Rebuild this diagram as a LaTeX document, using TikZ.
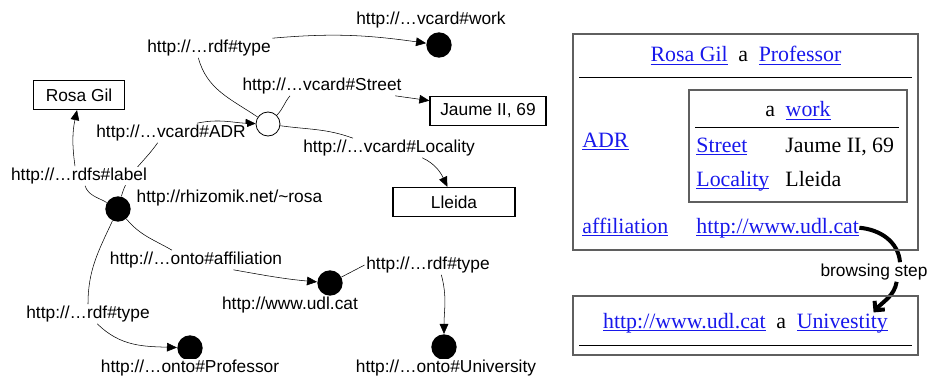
\documentclass[tikz,border=0pt]{standalone}
\usepackage{fontspec}
\setmainfont{Liberation Serif}
\setsansfont{Liberation Sans}
\usetikzlibrary{%
	arrows.meta,%
	backgrounds
}
\definecolor{linkblue}{RGB}{24,24,235}
\definecolor{framegray}{RGB}{95,95,95}
\newcommand{\lnk}[1]{\textcolor{linkblue}{\setbox0\hbox{#1}\rlap{\rule[-2.4pt]{\wd0}{0.8pt}}\box0}}

\begin{document}
\begin{tikzpicture}[x=0.75pt,y=0.75pt,line width=0.6pt,
	res/.style={circle,fill=black,minimum size=19pt,inner sep=0pt},
	bnode/.style={circle,draw,fill=white,minimum size=18pt,inner sep=0pt},
	lit/.style={draw,line width=1pt,minimum height=21.75pt,inner sep=2pt,font=\sffamily\fontsize{13}{15}\selectfont},
	prop/.style={fill=white,inner sep=1pt,font=\sffamily\fontsize{13}{15}\selectfont},
	panel/.style={draw=framegray,line width=0.9pt},
	txt/.style={inner sep=0pt,font=\fontsize{16.4}{19}\selectfont},
	>={Triangle[length=7.5pt,width=6.5pt]}]
			\useasboundingbox (0,0) rectangle (930,-381);
			% resources
			\node[res] (rosa) at (118,-209) {};
			\node[bnode] (adr) at (268,-124) {};
			\node[res] (work) at (439,-45) {};
			\node[res] (udl) at (330,-283) {};
			\node[res] (univ) at (444,-347) {};
			\node[res] (prof) at (190,-348) {};
			\node[lit,minimum width=68pt] (rosagil) at (79,-95) {Rosa Gil};
			\node[lit,minimum width=87pt] (jaume) at (488,-111) {Jaume II, 69};
			\node[lit,minimum width=91.5pt] (lleida) at (454,-202) {Lleida};
			%
			\node[prop,anchor=west] (rosauri) at (135,-198) {http://rhizomik.net/\textasciitilde rosa};
			\node[prop] (workuri) at (431,-20) {http://…vcard\#work};
			\node[prop] (udluri) at (290,-305) {http://www.udl.cat};
			\node[prop] (univuri) at (446,-368) {http://…onto\#University};
			\node[prop] (profuri) at (190,-368) {http://…onto\#Professor};
			% properties
			\node[prop] (type1) at (209,-48) {http://…rdf\#type};
			\node[prop] (street) at (322,-86) {http://…vcard\#Street};
			\node[prop] (locality) at (389,-148) {http://…vcard\#Locality};
			\node[prop] (adrlbl) at (171,-133) {http://…vcard\#ADR};
			\node[prop] (label) at (79,-176) {http://…rdfs\#label};
			\node[prop] (affil) at (196,-260) {http://…onto\#affiliation};
			\node[prop] (type2) at (428,-265) {http://…rdf\#type};
			\node[prop] (type3) at (88,-314) {http://…rdf\#type};
			% html views
			\node[panel,minimum width=258.75pt,minimum height=162pt] (page1) at (745.5,-142) {};
			\draw (579,-77) -- (912,-77);
			\node[panel,minimum width=163.5pt,minimum height=84pt] (address) at (798,-146) {};
			\draw (695,-127) -- (899,-127);
			\node[txt,anchor=base] (title1) at (746,-62) {\lnk{Rosa Gil}\hspace{8pt}a\hspace{8pt}\lnk{Professor}};
			\node[txt,anchor=base] (worktype) at (798,-117) {a\hspace{8pt}\lnk{work}};
			\node[txt,anchor=base west] (streetlnk) at (696,-152) {\lnk{Street}};
			\node[txt,anchor=base west] (streetval) at (785,-152) {Jaume II, 69};
			\node[txt,anchor=base west] (localitylnk) at (696,-186) {\lnk{Locality}};
			\node[txt,anchor=base west] (localityval) at (785,-186) {Lleida};
			\node[txt,anchor=base west] (adrlnk) at (582,-147) {\lnk{ADR}};
			\node[txt,anchor=base west] (affillnk) at (582,-233) {\lnk{affiliation}};
			\node[txt,anchor=base west] (udllnk) at (696,-233) {\lnk{http://www.udl.cat}};
			\node[panel,minimum width=258.75pt,minimum height=44.25pt] (page2) at (745.5,-325.5) {};
			\draw (579,-345) -- (912,-345);
			\node[txt,anchor=base] (title2) at (745.5,-328) {\lnk{http://www.udl.cat}\hspace{8pt}a\hspace{8pt}\lnk{Univestity}};
			\node[prop] (browse) at (874,-272) {browsing step};
			\begin{pgfonlayer}{background}
			\draw (adr) to[out=146,in=-75] ([xshift=-8pt]type1.south);
			\draw[->] (type1.north east) to[out=5,in=172] (work);
			\draw (adr) to[out=45,in=-130] ([xshift=-24pt]street.south);
			\draw[->] ([xshift=-6pt]street.south east) -- (jaume.170);
			\draw (adr) to[out=-8,in=160] ([xshift=-27pt]locality.north);
			\draw[->] ([xshift=25pt]locality.south) to[out=-25,in=115] ([xshift=-5pt]lleida.north);
			\draw (rosa) to[out=75,in=-125] ([xshift=-10pt]adrlbl.south);
			\draw[->] ([xshift=19.5pt]adrlbl.north) to[out=12,in=178] (adr);
			\draw (rosa) to[out=150,in=-70] ([xshift=4.5pt]label.south);
			\draw[->] ([xshift=-3pt]label.north) to[bend left=10] ([xshift=-1.5pt]rosagil.south);
			\draw (rosa) to[out=-50,in=150] ([xshift=-18pt]affil.north);
			\draw[->] ([xshift=28pt]affil.south) to[out=-10,in=175] (udl);
			\draw (udl) -- (type2.west);
			\draw[->] ([xshift=10pt]type2.south) to[out=-75,in=90] (univ);
			\draw (rosa) to[out=-115,in=90] (type3.north);
			\draw[->] ([xshift=7pt]type3.south) to[out=-45,in=178] (prof);
			% browsing step
			\draw[line width=3pt] (udllnk.east) to[out=-5,in=95] ([xshift=19.5pt]browse.north);
			\draw[line width=3pt,-{Straight Barb[length=5pt,width=10pt]}] ([xshift=17pt]browse.south) to[out=-100,in=50] ([xshift=-11pt]title2.north east);
			\end{pgfonlayer}
		\end{tikzpicture}
\end{document}
